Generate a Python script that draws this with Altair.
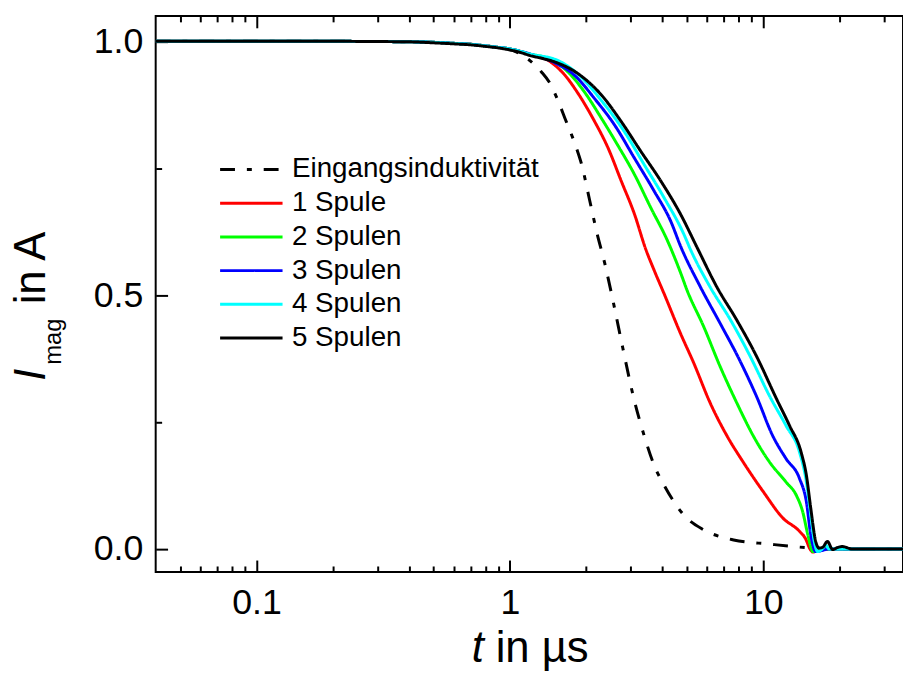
import altair as alt
import pandas as pd

FONT = "Liberation Sans"

series = ["Eingangsinduktivität", "1 Spule", "2 Spulen", "3 Spulen", "4 Spulen", "5 Spulen"]
colors = ["#000000", "#ff0000", "#00ff00", "#0000ff", "#00ffff", "#000000"]
dashes = [[15, 12, 5, 12], [1, 0], [1, 0], [1, 0], [1, 0], [1, 0]]

# t in µs, I_mag in A
t_ein = [0.04, 0.1, 0.2, 0.3, 0.4, 0.5, 0.6, 0.7, 0.8, 0.9, 1.0, 1.1, 1.2, 1.33, 1.44, 1.54, 1.65,
         1.83, 1.92, 2.06, 2.2, 2.37, 2.55, 2.79, 3.09, 3.39, 3.71, 4.06, 4.86, 5.82, 7.64, 10.6,
         13.1, 15.7, 20.0, 35.6]
i_ein = [1.0, 1.0, 1.0, 0.9995, 0.999, 0.998, 0.996, 0.994, 0.991, 0.988, 0.984, 0.975, 0.962, 0.94,
         0.917, 0.886, 0.848, 0.79, 0.757, 0.689, 0.625, 0.562, 0.49, 0.396, 0.295, 0.223, 0.165,
         0.126, 0.067, 0.038, 0.018, 0.0098, 0.005, 0.002, 0.0, 0.0]

t_s1 = [0.04, 0.1, 0.2, 0.3, 0.4, 0.5, 0.6, 0.7, 0.8, 0.9, 1.0, 1.1, 1.2, 1.42, 1.65, 1.86, 2.16,
        2.44, 2.75, 3.1, 3.44, 3.71, 4.06, 4.71, 5.31, 6.17, 7.19, 8.34, 10.0, 11.96, 13.9, 14.7,
        15.3, 15.7, 16.5, 18.0, 35.6]
i_s1 = [1.0, 1.0, 1.0, 0.9995, 0.999, 0.998, 0.996, 0.994, 0.991, 0.988, 0.985, 0.98, 0.974, 0.962,
        0.933, 0.897, 0.842, 0.79, 0.725, 0.66, 0.59, 0.549, 0.503, 0.425, 0.367, 0.288, 0.223,
        0.171, 0.113, 0.061, 0.035, 0.02, 0.0, -0.006, -0.002, 0.0, 0.0]

t_s2 = [0.04, 0.1, 0.2, 0.3, 0.4, 0.5, 0.6, 0.7, 0.8, 0.9, 1.0, 1.1, 1.2, 1.45, 1.7, 1.97, 2.3,
        2.66, 3.1, 3.6, 4.19, 4.71, 5.0, 5.82, 6.75, 7.86, 9.13, 10.6, 12.3, 13.5, 14.3, 15.0,
        15.7, 16.5, 18.0, 35.6]
i_s2 = [1.0, 1.0, 1.0, 0.9995, 0.999, 0.998, 0.996, 0.994, 0.991, 0.988, 0.985, 0.98, 0.975, 0.964,
        0.939, 0.9, 0.848, 0.796, 0.738, 0.672, 0.607, 0.545, 0.51, 0.438, 0.36, 0.288, 0.223,
        0.171, 0.132, 0.106, 0.074, 0.028, -0.005, -0.002, 0.0, 0.0]

t_s3 = [0.04, 0.1, 0.2, 0.3, 0.4, 0.5, 0.6, 0.7, 0.8, 0.9, 1.0, 1.1, 1.2, 1.5, 1.8, 2.16, 2.59,
        3.1, 3.71, 4.31, 4.73, 5.65, 6.75, 8.05, 9.4, 10.9, 12.3, 13.9, 14.8, 15.4, 16.1, 17.0,
        18.0, 35.6]
i_s3 = [1.0, 1.0, 1.0, 0.9995, 0.999, 0.998, 0.996, 0.994, 0.991, 0.988, 0.985, 0.98, 0.975, 0.958,
        0.933, 0.887, 0.835, 0.77, 0.705, 0.646, 0.595, 0.516, 0.445, 0.373, 0.301, 0.223, 0.178,
        0.139, 0.093, 0.028, -0.005, -0.003, 0.0, 0.0]

t_s4 = [0.04, 0.1, 0.2, 0.3, 0.4, 0.5, 0.6, 0.7, 0.8, 0.9, 1.0, 1.1, 1.2, 1.55, 1.86, 2.3, 2.83,
        3.39, 4.06, 4.86, 5.16, 6.17, 7.43, 8.87, 10.6, 12.3, 13.9, 14.8, 15.4, 15.9, 16.4, 17.2,
        17.6, 18.2, 20.0, 35.6]
i_s4 = [1.0, 1.0, 1.0, 0.9995, 0.999, 0.998, 0.996, 0.994, 0.991, 0.988, 0.985, 0.98, 0.975, 0.962,
        0.935, 0.883, 0.822, 0.757, 0.692, 0.62, 0.59, 0.516, 0.451, 0.38, 0.301, 0.243, 0.191,
        0.132, 0.067, 0.015, -0.005, 0.002, 0.008, 0.0, 0.0, 0.0]

t_s5 = [0.04, 0.1, 0.2, 0.3, 0.4, 0.5, 0.6, 0.7, 0.8, 0.9, 1.0, 1.1, 1.2, 1.35, 1.51, 1.86, 2.3,
        2.75, 3.29, 3.94, 4.71, 5.48, 6.56, 7.86, 9.4, 11.3, 12.7, 14.1, 14.8, 15.4, 16.1, 16.6,
        17.2, 17.9, 18.8, 19.6, 20.5, 22.5, 35.6]
i_s5 = [1.0, 1.0, 1.0, 0.9995, 0.999, 0.997, 0.995, 0.993, 0.99, 0.987, 0.983, 0.978, 0.972, 0.966,
        0.959, 0.936, 0.894, 0.842, 0.783, 0.725, 0.66, 0.594, 0.516, 0.451, 0.38, 0.295, 0.243,
        0.191, 0.145, 0.08, 0.015, 0.002, 0.004, 0.015, -0.001, 0.003, 0.005, 0.0, 0.0]

x_domain = [0.04, 35.6]
y_domain = [-0.045, 1.05]
x_major = [0.1, 1, 10]
x_minor = [0.05, 0.06, 0.07, 0.08, 0.09, 0.2, 0.3, 0.4, 0.5, 0.6, 0.7, 0.8, 0.9,
           2, 3, 4, 5, 6, 7, 8, 9, 20, 30]
y_major = [0.0, 0.5, 1.0]
y_minor = [0.25, 0.75]

rows = []
for name, ts, vs in zip(series, [t_ein, t_s1, t_s2, t_s3, t_s4, t_s5],
                        [i_ein, i_s1, i_s2, i_s3, i_s4, i_s5]):
    for t, v in zip(ts, vs):
        rows.append({"series": name, "t": t, "I": v})
df = pd.DataFrame(rows)

xs = alt.Scale(type="log", domain=x_domain, nice=False)
ys = alt.Scale(domain=y_domain, nice=False, zero=False)

common = dict(domain=False, grid=False, tickColor="black", tickWidth=2, title=None,
              labelColor="black", labelFont=FONT, labelFontSize=36)

def xaxis(orient, values, size, labels):
    return alt.Axis(orient=orient, values=values, tickSize=size, offset=-size,
                    labels=labels, format="~g", labelPadding=14, **common)

def yaxis(orient, values, size, labels):
    return alt.Axis(orient=orient, values=values, tickSize=size, offset=-size,
                    labels=labels, format=".1f", labelPadding=13, **common)

# long horizontal legend swatch: custom path, scaled by sqrt(size)/2
leg = alt.Legend(title=None, orient="none", legendX=63, legendY=141,
                 symbolType="M-3,0H3", symbolSize=441, symbolStrokeWidth=3,
                 symbolOffset=19.5, labelFont=FONT, labelFontSize=28,
                 labelColor="black", rowPadding=6, labelOffset=27, padding=0, labelLimit=0)

base = alt.Chart(df)

lines = base.mark_line(strokeWidth=3, clip=True, interpolate="monotone").encode(
    x=alt.X("t:Q", scale=xs, axis=xaxis("bottom", x_major, 12, True)),
    y=alt.Y("I:Q", scale=ys, axis=yaxis("left", y_major, 12, True)),
    color=alt.Color("series:N", scale=alt.Scale(domain=series, range=colors), legend=leg),
    strokeDash=alt.StrokeDash("series:N", scale=alt.Scale(domain=series, range=dashes), legend=leg),
)

minor_bl = base.mark_point(opacity=0).encode(
    x=alt.X("t:Q", scale=xs, axis=xaxis("bottom", x_minor, 6, False)),
    y=alt.Y("I:Q", scale=ys, axis=yaxis("left", y_minor, 6, False)),
)
major_top = base.mark_point(opacity=0).encode(
    x=alt.X("t:Q", scale=xs, axis=xaxis("top", x_major, 12, False)),
    y=alt.Y("I:Q", scale=ys, axis=None),
)
minor_top = base.mark_point(opacity=0).encode(
    x=alt.X("t:Q", scale=xs, axis=xaxis("top", x_minor, 6, False)),
    y=alt.Y("I:Q", scale=ys, axis=None),
)

def label(txt, x, y, size, italic=False, angle=0):
    kw = dict(font=FONT, fontSize=size, align="left", baseline="alphabetic", color="black")
    if italic:
        kw["fontStyle"] = "italic"
    if angle:
        kw["angle"] = angle
    return alt.Chart(pd.DataFrame({"txt": [txt]})).mark_text(**kw).encode(
        x=alt.value(x), y=alt.value(y), text="txt:N")

titles = [
    label("I", -112, 368, 44, italic=True, angle=270),
    label("mag", -96, 352, 24, angle=270),
    label("in A", -112, 291, 44, angle=270),
    label("t", 319, 652, 44, italic=True),
    label("in µs", 343, 652, 44),
]

chart = alt.layer(lines, minor_bl, major_top, minor_top, *titles).resolve_axis(
    x="independent", y="independent"
).properties(
    width=754, height=561,
    autosize=alt.AutoSizeParams(type="none"),
    padding={"left": 149, "top": 5, "right": 0, "bottom": 100},
).configure(font=FONT).configure_view(stroke="black", strokeWidth=2)

chart.save("out.html", embed_options={"renderer": "svg", "actions": False})
